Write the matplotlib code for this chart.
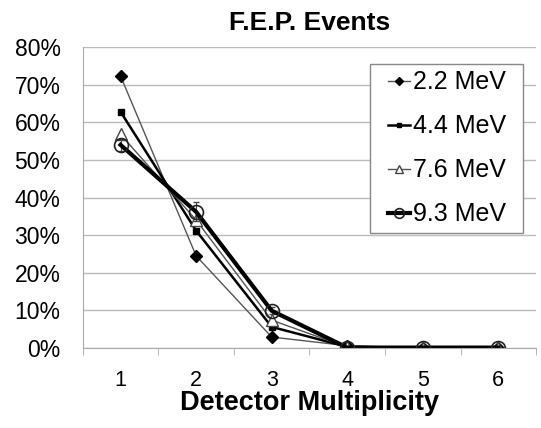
import numpy as np
import matplotlib.pyplot as plt
from matplotlib.patches import Rectangle
from matplotlib.ticker import FuncFormatter

plt.rcParams['font.family'] = ['Liberation Sans', 'DejaVu Sans']

multiplicity = [1, 2, 3, 4, 5, 6]
e22 = [72.3, 24.5, 2.9, 0.6, 0.0, 0.0]
e44 = [62.8, 31.2, 5.6, 0.3, 0.0, 0.0]
e76 = [56.8, 34.0, 7.4, 0.2, 0.0, 0.0]
e93 = [54.0, 36.2, 9.9, 0.1, 0.1, 0.1]
e93_err = [1.5, 2.5, 1.0, 0.3, 0.3, 0.3]

fig = plt.figure(figsize=(5.41, 4.28), dpi=100)
ax = fig.add_axes([0.153, 0.187, 0.838, 0.703])

ax.plot(multiplicity, e22, color='#555555', lw=1.0, marker='D', ms=6, mfc='black', mec='black', label='2.2 MeV')
ax.plot(multiplicity, e44, color='black', lw=1.8, marker='s', ms=4.5, mfc='black', mec='black', label='4.4 MeV')
ax.plot(multiplicity, e76, color='#555555', lw=1.0, marker='^', ms=8, mfc='white', mec='#444444', label='7.6 MeV')
ax.errorbar(multiplicity, e93, yerr=e93_err, fmt='none', ecolor='#444444', elinewidth=0.8, capsize=2)
ax.plot(multiplicity, e93, color='black', lw=3.0, marker='o', ms=10,
        mfc='none', mec='#222222', mew=1.2, label='9.3 MeV')

ax.set_xlim(0.5, 6.5)
ax.set_ylim(0, 80)
ax.set_yticks(np.arange(0, 81, 10))
ax.yaxis.set_major_formatter(FuncFormatter(lambda v, p: f'{v:.0f}%'))
ax.set_xticks(multiplicity)
ax.set_xticks(np.arange(0.5, 7, 1), minor=True)
ax.tick_params(axis='x', which='major', length=0, labelsize=15.5, pad=16)
ax.tick_params(axis='x', which='minor', length=5, color='#aaaaaa')
ax.tick_params(axis='y', length=0, labelsize=16.5, pad=16)
ax.grid(axis='y', color='#bbbbbb', lw=1.0)
ax.set_axisbelow(True)
for s in ['top', 'right']:
    ax.spines[s].set_visible(False)
ax.spines['left'].set_color('#aaaaaa')
ax.spines['bottom'].set_color('#aaaaaa')

ax.set_title('F.E.P. Events', fontsize=19, fontweight='bold', pad=12)
ax.set_xlabel('Detector Multiplicity', fontsize=19.5, fontweight='bold', labelpad=-1)

# legend box drawn separately so its padding matches the reference
ax.add_patch(Rectangle((0.634, 0.382), 0.337, 0.562, transform=ax.transAxes,
                       facecolor='white', edgecolor='#888888', lw=1.0, zorder=4))
leg = ax.legend(loc='center', bbox_to_anchor=(0.8025, 0.663), fontsize=18, frameon=False,
                handlelength=0.9, handletextpad=0.1, labelspacing=0.8, borderpad=0.3, markerscale=0.7)
leg.set_zorder(5)

fig.savefig('out.png', dpi=100)
